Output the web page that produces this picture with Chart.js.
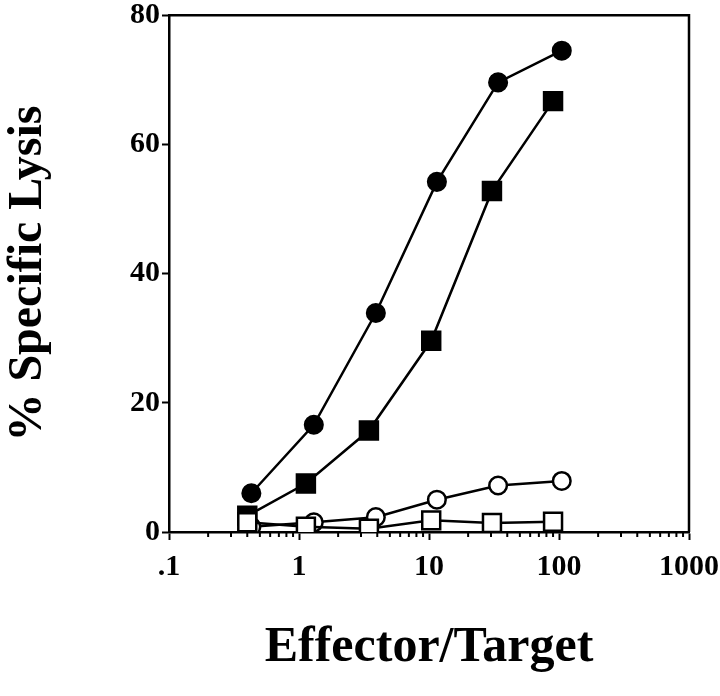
<!DOCTYPE html>
<html lang="en">
<head>
    <meta charset="UTF-8">
    <title>Specific Lysis</title>
    <script src="https://cdn.jsdelivr.net/npm/chart.js"></script>
    <style>
        body { margin: 0; background: #fff; }
        #box { width: 720px; height: 696px; }
    </style>
</head>
<body>
    <div id="box">
        <canvas id="canvasLise" width="720" height="696"></canvas>
    </div>

<script>
    // Effector/Target ratios (circles and squares sit at slightly different ratios)
    const ratioCirculo = [0.43, 1.3, 3.9, 11.5, 34, 105];
    const ratioQuadrado = [0.4, 1.13, 3.45, 10.4, 30.5, 90];

    // % specific lysis per series
    const circuloCheio = [6, 16.6, 33.9, 54.2, 69.6, 74.5];
    const quadradoCheio = [2.5, 7.5, 15.7, 29.6, 52.8, 66.7];
    const circuloVazio = [0.8, 1.5, 2.3, 5.0, 7.2, 7.9];
    const quadradoVazio = [1.5, 0.8, 0.5, 1.8, 1.4, 1.6];

    // ticks
    const ticksX = [0.1, 1, 10, 100, 1000];
    const rotulosX = ['.1', '1', '10', '100', '1000'];
    const ticksY = [0, 20, 40, 60, 80];

    const fonteTick = { family: 'Liberation Serif', weight: 'bold', size: 30 };

    function pontos(xs, ys) {
        return xs.map((x, i) => ({ x: x, y: ys[i] }));
    }

    function serie(label, xs, ys, estilo, cheio, ordem) {
        return {
            label: label,
            data: pontos(xs, ys),
            showLine: true,
            borderColor: '#000',
            borderWidth: 2.5,
            pointStyle: estilo,
            pointRadius: estilo === 'rect' ? 12.7 : 8.8,
            pointBackgroundColor: cheio ? '#000' : '#fff',
            pointBorderColor: '#000',
            pointBorderWidth: 2.5,
            order: ordem
        };
    }

    // moldura + ticks menores do eixo log
    const moldura = {
        id: 'moldura',
        afterDatasetsDraw(chart) {
            const { ctx, chartArea, scales } = chart;
            ctx.save();
            ctx.strokeStyle = '#000';
            ctx.lineWidth = 2.5;
            ctx.beginPath();
            ctx.moveTo(chartArea.left, chartArea.top);
            ctx.lineTo(chartArea.right, chartArea.top);
            ctx.lineTo(chartArea.right, chartArea.bottom);
            ctx.stroke();
            ctx.lineWidth = 2;
            for (let d = 0; d < ticksX.length - 1; d++) {
                for (let k = 2; k < 10; k++) {
                    const px = scales.x.getPixelForValue(ticksX[d] * k);
                    ctx.beginPath();
                    ctx.moveTo(px, chartArea.bottom);
                    ctx.lineTo(px, chartArea.bottom + 5);
                    ctx.stroke();
                }
            }
            ctx.restore();
        }
    };

    const config = {
        type: 'scatter',
        data: {
            datasets: [
                serie('circulo cheio', ratioCirculo, circuloCheio, 'circle', true, 3),
                serie('quadrado cheio', ratioQuadrado, quadradoCheio, 'rect', true, 2),
                serie('circulo vazio', ratioCirculo, circuloVazio, 'circle', false, 1),
                serie('quadrado vazio', ratioQuadrado, quadradoVazio, 'rect', false, 0)
            ]
        },
        plugins: [moldura],
        options: {
            responsive: false,
            animation: false,
            layout: { padding: { top: 8, right: 31, left: 0, bottom: 0 } },
            plugins: {
                legend: { display: false },
                tooltip: { enabled: false }
            },
            scales: {
                x: {
                    type: 'logarithmic',
                    min: 0.1,
                    max: 1000,
                    afterBuildTicks: (scale) => {
                        scale.ticks = ticksX.map(v => ({ value: v }));
                    },
                    afterFit: (scale) => {
                        scale.height = 164;
                        scale.paddingLeft = 0;
                        scale.paddingRight = 0;
                    },
                    border: { color: '#000', width: 2.5 },
                    grid: {
                        drawOnChartArea: false,
                        color: '#000',
                        tickColor: '#000',
                        tickLength: 8,
                        tickWidth: 2
                    },
                    ticks: {
                        autoSkip: false,
                        maxRotation: 0,
                        color: '#000',
                        padding: 9,
                        font: fonteTick,
                        callback: (v) => {
                            const i = ticksX.indexOf(v);
                            return i >= 0 ? rotulosX[i] : '';
                        }
                    },
                    title: {
                        display: true,
                        text: 'Effector/Target',
                        color: '#000',
                        padding: { top: 0, bottom: 18 },
                        font: { family: 'Liberation Serif', weight: 'bold', size: 50 }
                    }
                },
                y: {
                    min: 0,
                    max: 80,
                    afterBuildTicks: (scale) => {
                        scale.ticks = ticksY.map(v => ({ value: v }));
                    },
                    afterFit: (scale) => {
                        scale.width = 169;
                        scale.paddingTop = 0;
                        scale.paddingBottom = 0;
                    },
                    border: { color: '#000', width: 2.5 },
                    grid: {
                        drawOnChartArea: false,
                        color: '#000',
                        tickColor: '#000',
                        tickLength: 7,
                        tickWidth: 2
                    },
                    ticks: {
                        color: '#000',
                        padding: 2,
                        font: fonteTick
                    },
                    title: {
                        display: true,
                        text: '% Specific Lysis',
                        color: '#000',
                        padding: { top: 0, bottom: 0 },
                        font: { family: 'Liberation Serif', weight: 'bold', size: 48 }
                    }
                }
            }
        }
    };

    const graficoLise = new Chart(document.getElementById('canvasLise'), config);
</script>
</body>
</html>
